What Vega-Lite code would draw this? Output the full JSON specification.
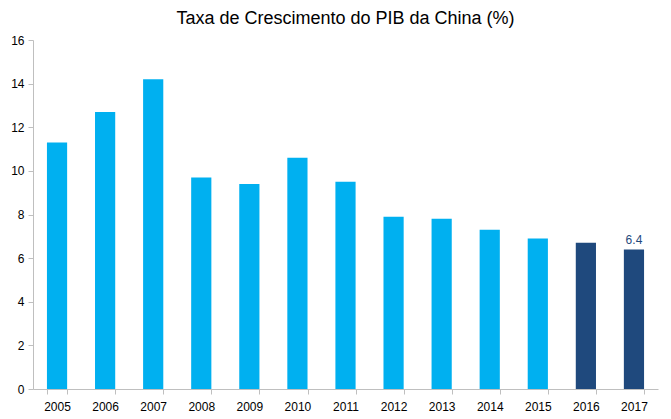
{
  "$schema": "https://vega.github.io/schema/vega-lite/v6.json",
  "autosize": "none",
  "width": 625,
  "height": 349,
  "padding": {"left": 33, "top": 40, "right": 13, "bottom": 30},
  "background": "white",
  "title": {
    "text": "Taxa de Crescimento do PIB da China (%)",
    "font": "Liberation Sans",
    "fontSize": 18,
    "fontWeight": "normal",
    "color": "#000000",
    "offset": 6
  },
  "config": {"view": {"stroke": null}},
  "data": {
    "values": [
      {"year": "2005", "value": 11.3, "kind": "a", "label": ""},
      {"year": "2006", "value": 12.7, "kind": "a", "label": ""},
      {"year": "2007", "value": 14.2, "kind": "a", "label": ""},
      {"year": "2008", "value": 9.7, "kind": "a", "label": ""},
      {"year": "2009", "value": 9.4, "kind": "a", "label": ""},
      {"year": "2010", "value": 10.6, "kind": "a", "label": ""},
      {"year": "2011", "value": 9.5, "kind": "a", "label": ""},
      {"year": "2012", "value": 7.9, "kind": "a", "label": ""},
      {"year": "2013", "value": 7.8, "kind": "a", "label": ""},
      {"year": "2014", "value": 7.3, "kind": "a", "label": ""},
      {"year": "2015", "value": 6.9, "kind": "a", "label": ""},
      {"year": "2016", "value": 6.7, "kind": "b", "label": ""},
      {"year": "2017", "value": 6.4, "kind": "b", "label": "6.4"}
    ]
  },
  "encoding": {
    "x": {
      "field": "year", "type": "nominal", "title": null,
      "scale": {"paddingInner": 0.58, "paddingOuter": 0.29},
      "axis": {"labelAngle": 0, "labelFont": "Liberation Sans", "labelFontSize": 12, "labelColor": "#000000", "labelPadding": 7, "tickBand": "extent", "tickSize": 5, "tickColor": "#bfbfbf", "domainColor": "#bfbfbf"}
    },
    "y": {
      "field": "value", "type": "quantitative", "title": null,
      "scale": {"domain": [0, 16]},
      "axis": {"values": [0, 2, 4, 6, 8, 10, 12, 14, 16], "grid": false, "labelFont": "Liberation Sans", "labelFontSize": 12, "labelColor": "#000000", "labelPadding": 4, "tickSize": 5, "tickColor": "#bfbfbf", "domainColor": "#bfbfbf"}
    }
  },
  "layer": [
    {
      "mark": {"type": "bar"},
      "encoding": {
        "color": {"field": "kind", "type": "nominal", "legend": null, "scale": {"domain": ["a", "b"], "range": ["#00b0f0", "#1f497d"]}}
      }
    },
    {
      "transform": [{"filter": "datum.label != ''"}],
      "mark": {"type": "text", "dy": -9, "font": "Liberation Sans", "fontSize": 12, "color": "#1f497d"},
      "encoding": {"text": {"field": "label"}}
    }
  ]
}
